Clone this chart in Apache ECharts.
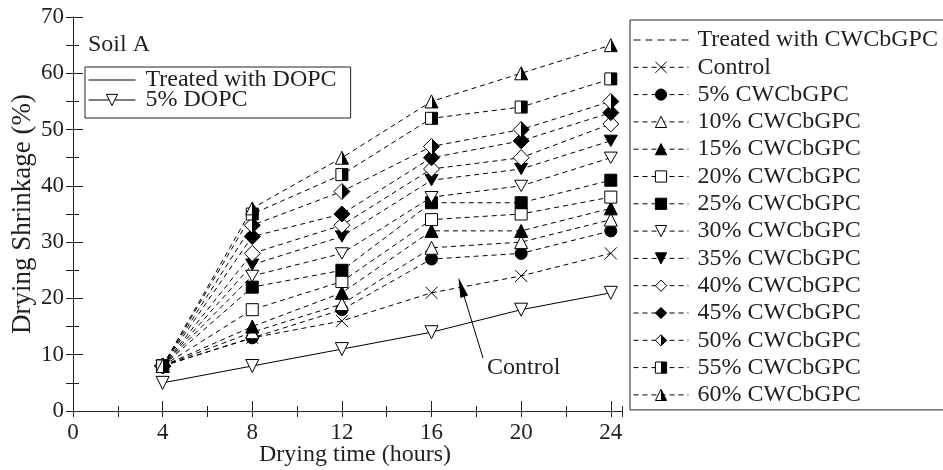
<!DOCTYPE html>
<html><head><meta charset="utf-8">
<script src="https://cdn.jsdelivr.net/npm/echarts@6/dist/echarts.min.js"></script>
<style>html,body{margin:0;padding:0;background:#fff}#c{width:943px;height:470px}</style>
</head><body><div id="c"></div>
<script>
// ---- data ----
const hours = [4, 8, 12, 16, 20, 24];
const dopc5   = [5, 8, 11, 14, 18, 21];
const control = [8, 13, 16, 21, 24, 28];
const cw5  = [8, 13, 18, 27, 28, 32];
const cw10 = [8, 14, 19, 29, 30, 34];
const cw15 = [8, 15, 21, 32, 32, 36];
const cw20 = [8, 18, 23, 34, 35, 38];
const cw25 = [8, 22, 25, 37, 37, 41];
const cw30 = [8, 24, 28, 38, 40, 45];
const cw35 = [8, 26, 31, 41, 43, 48];
const cw40 = [8, 28, 33, 43, 45, 51];
const cw45 = [8, 31, 35, 45, 48, 53];
const cw50 = [8, 33, 39, 47, 50, 55];
const cw55 = [8, 35, 42, 52, 54, 59];
const cw60 = [8, 36, 45, 55, 60, 65];
const xTicks = [0, 4, 8, 12, 16, 20, 24];
const yTicks = [0, 10, 20, 30, 40, 50, 60, 70];
const names = ['Control','5% CWCbGPC','10% CWCbGPC','15% CWCbGPC','20% CWCbGPC','25% CWCbGPC','30% CWCbGPC',
  '35% CWCbGPC','40% CWCbGPC','45% CWCbGPC','50% CWCbGPC','55% CWCbGPC','60% CWCbGPC'];
const cwData = [control, cw5, cw10, cw15, cw20, cw25, cw30, cw35, cw40, cw45, cw50, cw55, cw60];

// ---- styles ----
const FONT = 'Liberation Serif';
const TXT = '#231f20';
const half = {type:'linear', x:0, y:0, x2:1, y2:0, colorStops:[
  {offset:0,color:'#fff'},{offset:0.5,color:'#fff'},{offset:0.5,color:'#000'},{offset:1,color:'#000'}]};
const cross = 'path://M0,0L10,10M10,0L0,10';
const triDown = 'path://M0,0L12,0L6,10.4Z';
const marks = [
  [cross, '#000', 12],
  ['circle', '#000', 12],
  ['triangle', '#fff', 13],
  ['triangle', '#000', 13],
  ['rect', '#fff', 12],
  ['rect', '#000', 12],
  [triDown, '#fff', 13],
  [triDown, '#000', 13],
  ['diamond', '#fff', 16],
  ['diamond', '#000', 16],
  ['diamond', half, 16],
  ['rect', half, 12],
  ['triangle', half, 13]
];
const pts = arr => hours.map((h, i) => [h, arr[i]]);

const series = [];
series.push({type:'line', name:'Treated with DOPC', data:[], symbol:'none',
  itemStyle:{color:'#000', borderWidth:0}, lineStyle:{color:'#000', width:1}});
series.push({type:'line', name:'5% DOPC', data:pts(dopc5), symbol:triDown, symbolSize:13,
  itemStyle:{color:'#fff', borderColor:'#000', borderWidth:1}, lineStyle:{color:'#000', width:1}, z:5});
series.push({type:'line', name:'Treated with CWCbGPC', data:[], symbol:'none',
  itemStyle:{color:'#000', borderWidth:0}, lineStyle:{color:'#000', width:1, type:[5,4]}});
cwData.forEach((d, k) => {
  const s = {type:'line', name:names[k], data:pts(d), symbol:marks[k][0], symbolSize:marks[k][2],
    symbolKeepAspect:true,
    itemStyle:{color:marks[k][1], borderColor:'#000', borderWidth:1},
    lineStyle:{color:'#000', width:1, type:[5,4]}, z:3};
  if (k === 0) {
    s.markLine = {silent:true, animation:false, symbol:['none','triangle'], symbolSize:[8,20],
      label:{show:false}, lineStyle:{color:'#000', width:1, type:'solid'},
      data:[[{coord:[18.3, 9.4]}, {coord:[17.33, 22.0]}]]};
  }
  series.push(s);
});

const axLine = {show:true, lineStyle:{color:'#222', width:1}};
const tickLS = {color:'#222', width:1};
const lblStyle = {fontFamily:FONT, fontSize:23, color:TXT};
const nameStyle = {fontFamily:FONT, fontSize:24, color:TXT};

const option = {
  animation:false,
  backgroundColor:'#fff',
  title:[
    {text:'Soil A', left:88, top:33, padding:0, textStyle:{fontFamily:FONT, fontSize:24, fontWeight:'normal', color:TXT}},
    {text:'Control', left:487, top:356, padding:0, textStyle:{fontFamily:FONT, fontSize:24, fontWeight:'normal', color:TXT}}
  ],
  grid:{left:73, top:17, right:321, bottom:59, containLabel:false, outerBoundsMode:'none'},
  xAxis:[
    {type:'value', position:'bottom', min:0, max:24.5, interval:4,
     axisLine:axLine, splitLine:{show:false},
     axisTick:{inside:true, length:10, lineStyle:tickLS, customValues:xTicks},
     axisLabel:Object.assign({margin:10, customValues:xTicks}, lblStyle),
     name:'Drying time (hours)', nameLocation:'middle', nameGap:32, nameMoveOverlap:false,
     nameTextStyle:Object.assign({padding:[0,0,0,15]}, nameStyle)},
    {type:'value', position:'bottom', min:0, max:24.5, interval:2,
     axisLine:{show:false}, splitLine:{show:false}, axisLabel:{show:false},
     axisTick:{inside:true, length:5, lineStyle:tickLS}},
    {type:'value', position:'top', min:0, max:24.5, interval:2,
     axisLine:axLine, splitLine:{show:false}, axisLabel:{show:false},
     axisTick:{inside:true, length:6, lineStyle:tickLS}}
  ],
  yAxis:[
    {type:'value', position:'left', min:0, max:70, interval:10,
     axisLine:axLine, splitLine:{show:false},
     axisTick:{inside:true, length:10, lineStyle:tickLS, customValues:yTicks},
     axisLabel:Object.assign({margin:9, customValues:yTicks}, lblStyle),
     name:'Drying Shrinkage (%)', nameLocation:'middle', nameGap:37, nameMoveOverlap:false,
     nameTextStyle:{fontFamily:FONT, fontSize:27, color:TXT}},
    {type:'value', position:'left', min:0, max:70, interval:5,
     axisLine:{show:false}, splitLine:{show:false}, axisLabel:{show:false},
     axisTick:{inside:true, length:6, lineStyle:tickLS}},
    {type:'value', position:'right', min:0, max:70, interval:5,
     axisLine:axLine, splitLine:{show:false}, axisLabel:{show:false},
     axisTick:{inside:true, length:7, lineStyle:tickLS}}
  ],
  legend:[
    {orient:'vertical', left:85, top:67, itemWidth:47, itemHeight:14, itemGap:-4,
     padding:[1,14,6,3], borderColor:'#222', borderWidth:1, selectedMode:false,
     symbolKeepAspect:true,
     itemStyle:{borderWidth:1}, lineStyle:{width:1},
     textStyle:{fontFamily:FONT, fontSize:24, lineHeight:20, color:TXT, padding:[0,0,0,5]},
     data:[{name:'Treated with DOPC', icon:'path://M0,0h47v1h-47z', itemStyle:{borderWidth:0}}, '5% DOPC']},
    {orient:'vertical', left:630, top:20, itemWidth:55, itemHeight:14, itemGap:3.3,
     padding:[8,40,3,3], borderColor:'#222', borderWidth:1, selectedMode:false,
     symbolKeepAspect:true,
     itemStyle:{borderWidth:1}, lineStyle:{width:1},
     textStyle:{fontFamily:FONT, fontSize:24, lineHeight:24, color:TXT, padding:[0,0,0,4]},
     data:[{name:'Treated with CWCbGPC', icon:'path://M0,0h7v1h-7zM12,0h7v1h-7zM24,0h7v1h-7zM36,0h7v1h-7zM48,0h7v1h-7z', itemStyle:{borderWidth:0}}].concat(names)}
  ],
  series:series
};
const chart = echarts.init(document.getElementById('c'), null, {renderer:'canvas'});
chart.setOption(option);
</script></body></html>
